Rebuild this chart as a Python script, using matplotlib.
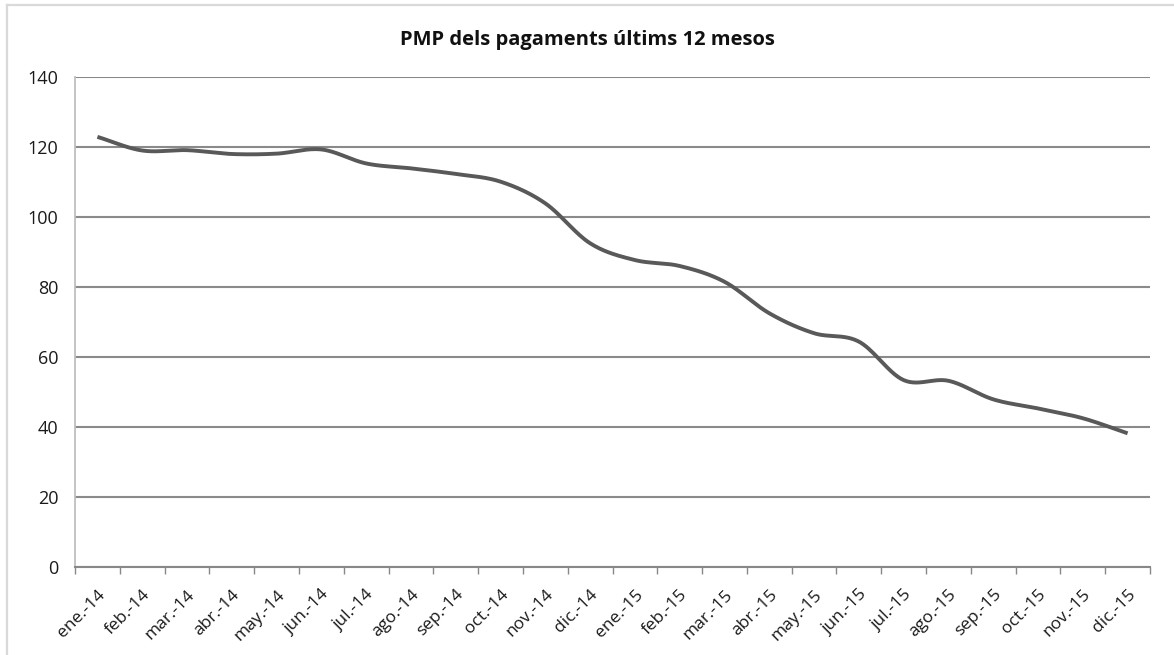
import numpy as np
import matplotlib
matplotlib.use("Agg")
import matplotlib.pyplot as plt
from matplotlib.lines import Line2D

plt.rcParams.update({
    "font.family": ["Open Sans", "DejaVu Sans"],
    "figure.dpi": 100,
})

# Data
months = ["ene.-14", "feb.-14", "mar.-14", "abr.-14", "may.-14", "jun.-14",
          "jul.-14", "ago.-14", "sep.-14", "oct.-14", "nov.-14", "dic.-14",
          "ene.-15", "feb.-15", "mar.-15", "abr.-15", "may.-15", "jun.-15",
          "jul.-15", "ago.-15", "sep.-15", "oct.-15", "nov.-15", "dic.-15"]
pmp = [122.9, 119.0, 119.1, 118.0, 118.1, 119.3, 115.3, 113.9, 112.3, 110.1,
       103.9, 92.5, 87.7, 86.0, 81.5, 72.5, 66.8, 64.4, 53.4, 53.2, 47.9,
       45.3, 42.5, 38.2]
title = "PMP dels pagaments últims 12 mesos"


def smooth(x, y, n=30):
    # Catmull-Rom style smoothing, like Excel's "smoothed line"
    x = np.asarray(x, float)
    y = np.asarray(y, float)
    px = np.concatenate([[2 * x[0] - x[1]], x, [2 * x[-1] - x[-2]]])
    py = np.concatenate([[2 * y[0] - y[1]], y, [2 * y[-1] - y[-2]]])
    xs, ys = [], []
    t = np.linspace(0, 1, n, endpoint=False)
    for i in range(1, len(px) - 2):
        for p, out in ((px, xs), (py, ys)):
            p0, p1, p2, p3 = p[i - 1], p[i], p[i + 1], p[i + 2]
            out.append(0.5 * ((2 * p1) + (-p0 + p2) * t
                              + (2 * p0 - 5 * p1 + 4 * p2 - p3) * t ** 2
                              + (-p0 + 3 * p1 - 3 * p2 + p3) * t ** 3))
    xs.append([x[-1]])
    ys.append([y[-1]])
    return np.concatenate(xs), np.concatenate(ys)


fig = plt.figure(figsize=(11.74, 6.55))
ax = fig.add_axes([75 / 1174, 88 / 655, 1075 / 1174, 490 / 655])

# chart border (only top and left visible in the crop)
W, H = 1174, 655
fig.lines.append(Line2D([7 / W, 7 / W], [0, 1 - 5 / H], transform=fig.transFigure,
                        color="#d9d9d9", linewidth=1.6))
fig.lines.append(Line2D([7 / W, 1], [1 - 5 / H, 1 - 5 / H], transform=fig.transFigure,
                        color="#d9d9d9", linewidth=1.6))

xi = np.arange(len(months))
sx, sy = smooth(xi, pmp)
ax.plot(sx, sy, color="#595959", linewidth=2.8, solid_capstyle="butt", zorder=3)

ax.set_xlim(-0.5, len(months) - 0.5)
ax.set_ylim(0, 140)
ax.set_yticks(range(0, 141, 20))
ax.yaxis.grid(True, color="#8a8a8a", linewidth=1.5)
ax.set_axisbelow(True)

ax.set_xticks(xi)
ax.set_xticklabels(months, rotation=45, ha="right", rotation_mode="anchor",
                   fontsize=12.5, color="#1a1a1a")
ax.set_xticks(np.arange(-0.5, len(months)), minor=True)
ax.tick_params(axis="x", which="major", length=0, pad=14)
ax.tick_params(axis="x", which="minor", length=5, color="#888888", width=1)
ax.tick_params(axis="y", length=0, labelsize=13, pad=12, labelcolor="#1a1a1a")

for side in ["top", "right"]:
    ax.spines[side].set_visible(False)
ax.spines["left"].set_color("#bfbfbf")
ax.spines["left"].set_linewidth(1.3)
ax.spines["bottom"].set_color("#888888")
ax.spines["bottom"].set_linewidth(1.5)

fig.text(0.5, 1 - 40 / 655, title, ha="center", va="center",
         fontsize=14.5, fontweight="bold", color="#111111")

fig.savefig("out.png", dpi=100)
